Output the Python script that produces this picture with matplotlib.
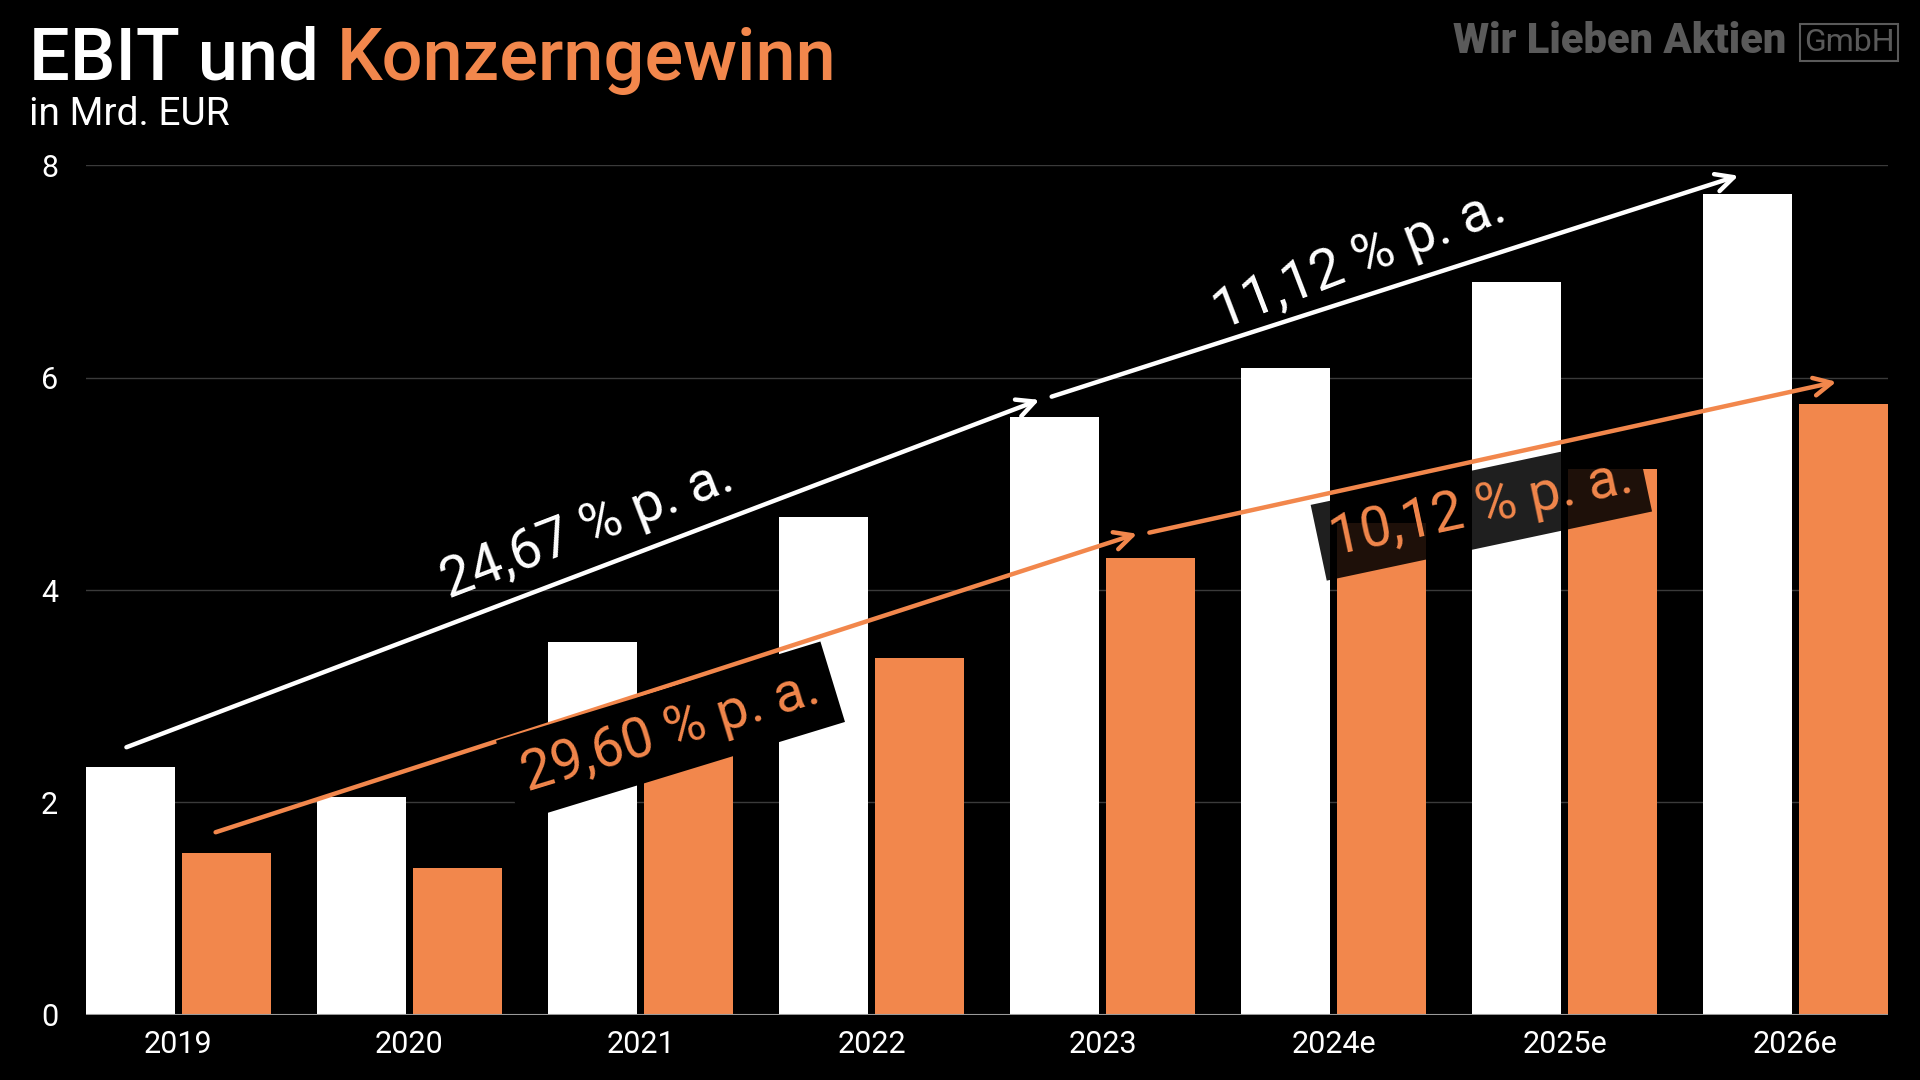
import numpy as np
import matplotlib
matplotlib.use("Agg")
import matplotlib.pyplot as plt

# Daten (Mrd. EUR)
years = ["2019", "2020", "2021", "2022", "2023", "2024e", "2025e", "2026e"]
ebit = [2.33, 2.05, 3.51, 4.69, 5.63, 6.09, 6.90, 7.73]
gewinn = [1.52, 1.38, 2.45, 3.36, 4.30, 4.63, 5.14, 5.75]

cagr_labels = ["24,67 % p. a.", "11,12 % p. a.", "29,60 % p. a.", "10,12 % p. a."]

ORANGE = "#F2874C"
plt.rcParams["font.family"] = ["Roboto", "DejaVu Sans"]

fig = plt.figure(figsize=(19.2, 10.8), dpi=100, facecolor="black")
ax = fig.add_axes([0.0448, 0.0602, 0.9385, 0.787])
ax.set_facecolor("black")

x = np.arange(len(years))
w = 0.386
off = 0.207
ax.bar(x - off, ebit, width=w, color="white", zorder=2)
ax.bar(x + off, gewinn, width=w, color=ORANGE, zorder=2)

ax.set_xlim(-0.4, 7.4)
ax.set_ylim(0, 8)
ax.set_yticks([0, 2, 4, 6, 8])
ax.set_xticks(x)
ax.set_xticklabels(years)
ax.tick_params(axis="both", length=0, colors="white", labelsize=22)
ax.tick_params(axis="y", pad=20)
ax.tick_params(axis="x", pad=11)
for s in ax.spines.values():
    s.set_visible(False)
ax.yaxis.grid(True, color="#3a3a3a", lw=1)
ax.set_axisbelow(True)
ax.axhline(0, color="#9a9a9a", lw=1.5, zorder=3)

# CAGR-Pfeile
def arrow(p0, p1, color):
    ax.annotate("", xy=p1, xytext=p0, annotation_clip=False,
                arrowprops=dict(arrowstyle="->", lw=3.2, color=color,
                                mutation_scale=32, shrinkA=0, shrinkB=0),
                zorder=4)

arrow((-0.225, 2.52), (3.727, 5.79), "white")
arrow((3.78, 5.82), (6.753, 7.90), "white")
arrow((0.161, 1.72), (4.15, 4.53), ORANGE)
arrow((4.203, 4.54), (7.177, 5.96), ORANGE)

fs = 40
ax.text(1.77, 4.57, cagr_labels[0], color="white", fontsize=fs,
        rotation=21, ha="center", va="center", rotation_mode="anchor", zorder=5)
ax.text(5.11, 7.11, cagr_labels[1], color="white", fontsize=fs,
        rotation=21, ha="center", va="center", rotation_mode="anchor", zorder=5)
ax.text(2.13, 2.67, cagr_labels[2], color=ORANGE, fontsize=fs,
        rotation=17, ha="center", va="center", rotation_mode="anchor", zorder=5,
        bbox=dict(boxstyle="square,pad=0.28", fc="black", ec="none"))
ax.text(5.64, 4.77, cagr_labels[3], color=ORANGE, fontsize=fs,
        rotation=12, ha="center", va="center", rotation_mode="anchor", zorder=5,
        bbox=dict(boxstyle="square,pad=0.22", fc="black", ec="none", alpha=0.88))

# Titel
t1 = fig.text(0.0151, 0.926, "EBIT und ", color="white", fontsize=52,
              fontweight="medium", va="baseline")
fig.canvas.draw()
bb = t1.get_window_extent()
fig.text(bb.x1 / fig.bbox.width, 0.926, "Konzerngewinn", color=ORANGE,
         fontsize=52, fontweight="medium", va="baseline")
fig.text(0.0151, 0.884, "in Mrd. EUR", color="white", fontsize=28, va="baseline")

# Logo
fig.text(0.9305, 0.951, "Wir Lieben Aktien", color="#5a5a5a", fontsize=30,
         fontweight="heavy", ha="right", va="baseline")
fig.text(0.9395, 0.953, "GmbH", color="#5a5a5a", fontsize=23, ha="left",
         va="baseline", bbox=dict(boxstyle="square,pad=0.12", fc="none",
                                  ec="#5a5a5a", lw=1.5))

fig.savefig("out.png", dpi=100, facecolor="black")
